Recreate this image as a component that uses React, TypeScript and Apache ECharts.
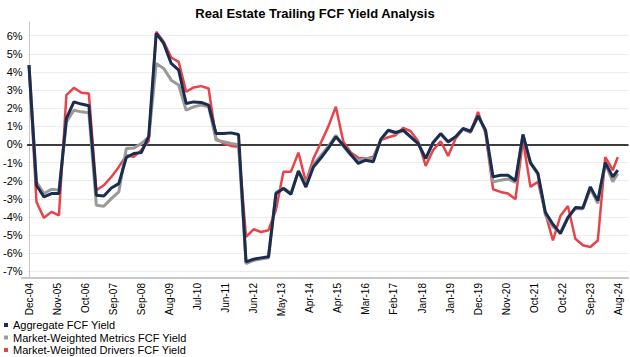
import React, { useEffect, useRef } from "react";
import * as echarts from "echarts";

const FONT = "'Liberation Sans', Arial, Helvetica, sans-serif";

const TITLE = "Real Estate Trailing FCF Yield Analysis";

// Observation dates (quarter ends, last one Aug-24)
const dates: string[] = [
  "2004-12",
  "2005-03", "2005-06", "2005-09", "2005-12",
  "2006-03", "2006-06", "2006-09", "2006-12",
  "2007-03", "2007-06", "2007-09", "2007-12",
  "2008-03", "2008-06", "2008-09", "2008-12",
  "2009-03", "2009-06", "2009-09", "2009-12",
  "2010-03", "2010-06", "2010-09", "2010-12",
  "2011-03", "2011-06", "2011-09", "2011-12",
  "2012-03", "2012-06", "2012-09", "2012-12",
  "2013-03", "2013-06", "2013-09", "2013-12",
  "2014-03", "2014-06", "2014-09", "2014-12",
  "2015-03", "2015-06", "2015-09", "2015-12",
  "2016-03", "2016-06", "2016-09", "2016-12",
  "2017-03", "2017-06", "2017-09", "2017-12",
  "2018-03", "2018-06", "2018-09", "2018-12",
  "2019-03", "2019-06", "2019-09", "2019-12",
  "2020-03", "2020-06", "2020-09", "2020-12",
  "2021-03", "2021-06", "2021-09", "2021-12",
  "2022-03", "2022-06", "2022-09", "2022-12",
  "2023-03", "2023-06", "2023-09", "2023-12",
  "2024-03", "2024-06", "2024-08",
];

const aggregate: number[] = [
  4.38,
  -2.25, -2.89, -2.71, -2.71,
  1.44, 2.35, 2.23, 2.14,
  -2.8, -2.84, -2.4, -2.16,
  -0.72, -0.5, -0.45, 0.45,
  6.13, 5.58, 4.47, 4.1,
  2.26, 2.35, 2.32, 2.17,
  0.6, 0.6, 0.64, 0.55,
  -6.48, -6.33, -6.26, -6.2,
  -2.71, -2.43, -2.75, -1.47,
  -2.35, -1.24, -0.75, -0.2,
  0.42, -0.04, -0.55, -1.05,
  -0.87, -0.96, 0.28, 0.79,
  0.66, 0.79, 0.42, 0.05,
  -0.78, 0.11, 0.6, 0.15,
  0.42, 0.88, 0.73, 1.58,
  0.79, -1.79, -1.7, -1.7,
  -2.0, 0.55, -1.0, -1.6,
  -3.75, -4.4, -4.92, -4.05,
  -3.48, -3.5, -2.34, -3.1,
  -1.0, -1.79, -1.42,
];

const metrics: number[] = [
  4.38,
  -2.07, -2.71, -2.47, -2.52,
  1.25, 1.89, 1.8, 1.75,
  -3.35, -3.41, -2.99, -2.62,
  -0.22, -0.2, 0.05, 0.4,
  4.47, 4.2, 3.55, 3.28,
  1.89, 2.08, 2.17, 2.08,
  0.24, 0.15, 0.05, -0.01,
  -6.57, -6.4, -6.32, -6.25,
  -2.65, -2.4, -2.7, -1.45,
  -2.2, -1.1, -0.6, -0.1,
  0.51, -0.1, -0.59, -0.87,
  -0.8, -0.78, 0.24, 0.75,
  0.62, 0.75, 0.4, 0.05,
  -0.75, 0.1, 0.58, 0.12,
  0.4, 0.85, 0.7, 1.55,
  0.75, -2.07, -1.97, -1.9,
  -2.1, 0.5, -1.05, -1.65,
  -3.9, -4.55, -4.85, -4.0,
  -3.55, -3.55, -2.45, -3.25,
  -1.05, -2.05, -1.6,
];

const drivers: number[] = [
  4.38,
  -3.17, -4.05, -3.72, -3.91,
  2.72, 3.13, 2.85, 2.81,
  -2.52, -2.25, -1.79, -1.24,
  -0.6, -0.68, -0.31, 0.2,
  6.22, 5.67, 4.8, 4.56,
  2.91, 3.15, 3.22, 3.09,
  0.33, 0.05, -0.08, -0.13,
  -5.1, -4.68, -4.83, -4.73,
  -3.6, -1.5, -1.5, -0.45,
  -2.07, -0.78, 0.1, 1.0,
  2.08, 0.15, -0.44, -0.74,
  -0.78, -0.68, 0.24, 0.4,
  0.51, 0.92, 0.73, 0.18,
  -1.18, -0.31, 0.18, -0.63,
  0.33, 0.84, 0.66, 1.8,
  0.6, -2.47, -2.62, -2.71,
  -3.02, 0.24, -2.34, -2.06,
  -3.8, -5.29, -3.95, -3.4,
  -5.2, -5.56, -5.66, -5.3,
  -0.7, -1.42, -0.7,
];

const tickLabels: string[] = [
  "Dec-04", "Nov-05", "Oct-06", "Sep-07", "Sep-08", "Aug-09", "Jul-10", "Jun-11",
  "Jun-12", "May-13", "Apr-14", "Apr-15", "Mar-16", "Feb-17", "Jan-18", "Jan-19",
  "Dec-19", "Nov-20", "Oct-21", "Oct-22", "Sep-23", "Aug-24",
];

const SERIES_NAMES = [
  "Aggregate FCF Yield",
  "Market-Weighted Metrics FCF Yield",
  "Market-Weighted Drivers FCF Yield",
];
const COLORS = ["#1b2d4f", "#9a9a9a", "#e8434b"];

const TICK_STEP = 11.25; // months between tick labels

function monthIndex(d: string): number {
  const [y, m] = d.split("-").map(Number);
  return (y - 2004) * 12 + (m - 12);
}

function toPairs(vals: number[]) {
  return dates.map((d, i) => [monthIndex(d), vals[i]]);
}

export default function App() {
  const ref = useRef<HTMLDivElement>(null);

  useEffect(() => {
    if (!ref.current) return;
    const chart = echarts.init(ref.current, undefined, { renderer: "svg" });
    const mkSeries = (idx: number, vals: number[], width: number) => ({
      name: SERIES_NAMES[idx],
      type: "line",
      xAxisIndex: 0,
      yAxisIndex: 0,
      data: toPairs(vals),
      symbol: "none",
      showSymbol: false,
      clip: false,
      lineStyle: { color: COLORS[idx], width },
      itemStyle: { color: COLORS[idx] },
    });
    const option: any = {
      animation: false,
      backgroundColor: "#ffffff",
      textStyle: { fontFamily: FONT },
      title: {
        text: TITLE,
        left: "center",
        top: 2,
        textStyle: { fontSize: 13, fontWeight: "bold", color: "#000", fontFamily: FONT },
      },
      legend: {
        orient: "vertical",
        left: 4,
        top: 319,
        padding: 0,
        icon: "rect",
        itemWidth: 4,
        itemHeight: 4,
        itemGap: 0.5,
        data: SERIES_NAMES,
        textStyle: { fontSize: 11, color: "#000", lineHeight: 12, fontFamily: FONT },
      },
      grid: [
        { left: 22, right: 2, top: 22, bottom: 79 },
        { left: 22, right: 2, top: 35.7, bottom: 85.7 },
        { left: 29, right: 11.5, top: 22, bottom: 79 },
      ],
      xAxis: [
        {
          gridIndex: 0,
          type: "value",
          min: -2.8,
          max: 240.1,
          axisLine: { show: true, onZero: false, lineStyle: { color: "#c8c8c8", width: 2 } },
          axisTick: { show: false },
          axisLabel: { show: false },
          splitLine: { show: false },
        },
        {
          gridIndex: 1,
          type: "value",
          min: 0,
          max: 1,
          axisLine: { show: true, onZero: true, lineStyle: { color: "#000", width: 1.5 } },
          axisTick: { show: false },
          axisLabel: { show: false },
          splitLine: { show: false },
        },
        {
          gridIndex: 2,
          type: "value",
          position: "bottom",
          min: 0,
          max: TICK_STEP * (tickLabels.length - 1),
          interval: TICK_STEP,
          axisLine: { show: false, onZero: false },
          axisTick: { show: false },
          splitLine: { show: false },
          axisLabel: {
            rotate: 90,
            fontSize: 10,
            color: "#000",
            margin: 5,
            fontFamily: FONT,
            formatter: (v: number) => tickLabels[Math.round(v / TICK_STEP)] ?? "",
          },
        },
      ],
      yAxis: [
        {
          gridIndex: 0,
          type: "value",
          min: -7.37,
          max: 6.76,
          axisLine: { show: true, lineStyle: { color: "#c8c8c8", width: 1 } },
          axisTick: { show: false },
          axisLabel: { show: false },
          splitLine: { show: false },
        },
        {
          gridIndex: 1,
          type: "value",
          min: -7,
          max: 6,
          interval: 1,
          axisLine: { show: false },
          axisTick: { show: false },
          axisLabel: {
            fontSize: 11,
            color: "#000",
            margin: 5,
            fontFamily: FONT,
            formatter: (v: number) => `${v}%`,
          },
          splitLine: { show: true, lineStyle: { type: "dotted", color: "#d9d9d9", width: 1 } },
        },
        {
          gridIndex: 2,
          type: "value",
          min: 0,
          max: 1,
          show: false,
        },
      ],
      series: [
        mkSeries(2, drivers, 2.5),
        mkSeries(1, metrics, 3),
        mkSeries(0, aggregate, 3),
      ],
    };
    chart.setOption(option);
    return () => chart.dispose();
  }, []);

  return (
    <div
      ref={ref}
      style={{ position: "fixed", left: 0, top: 0, width: 630, height: 357, background: "#fff" }}
    />
  );
}
